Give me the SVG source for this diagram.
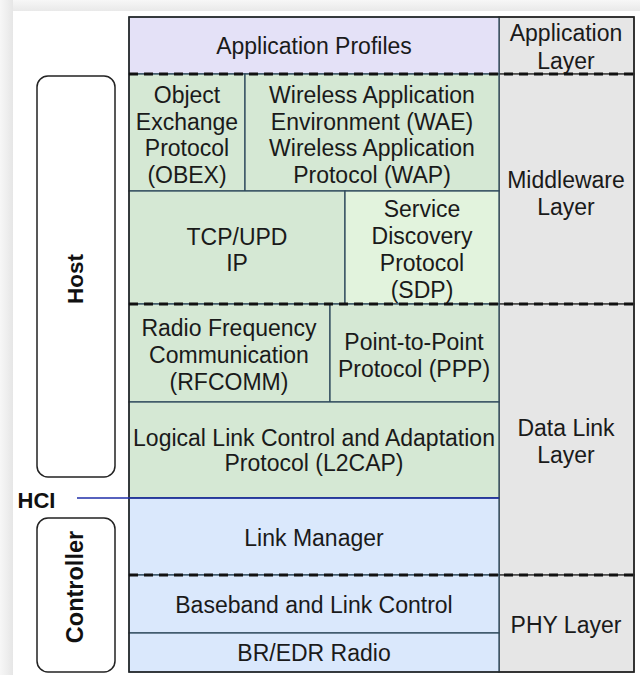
<svg xmlns="http://www.w3.org/2000/svg" width="640" height="675" viewBox="0 0 640 675">
<defs>
<linearGradient id="topShade" x1="0" y1="0" x2="0" y2="1"><stop offset="0" stop-color="#f7f7f7"/><stop offset="1" stop-color="#e9e9e9"/></linearGradient>
<linearGradient id="leftShade" x1="0" y1="0" x2="1" y2="0"><stop offset="0" stop-color="#f7f7f7"/><stop offset="1" stop-color="#e6e6e6"/></linearGradient>
</defs>
<style>
text{font-family:"Liberation Sans",Arial,sans-serif;font-size:23px;fill:#1a1a1a;text-anchor:middle}
.b{font-weight:bold;fill:#111}
.cell{stroke:#2e4a5c;stroke-width:1.3}
.green{fill:#d5e8d4}
.lgreen{fill:#e2f3dd}
.blue{fill:#dae8fc}
.purple{fill:#e4e1f7}
.gray{fill:#e6e6e6;stroke:#444;stroke-width:1.5}
.dash{stroke:#111;stroke-width:3;stroke-dasharray:9 6;fill:none}
.round{fill:#fff;stroke:#222;stroke-width:1.5}
</style>
<rect x="0" y="0" width="640" height="675" fill="#efefef"/>
<rect x="0" y="0" width="640" height="11" fill="url(#topShade)"/>
<rect x="0" y="0" width="13" height="675" fill="url(#leftShade)"/>
<rect x="13" y="11" width="627" height="664" fill="#ffffff"/>

<g id="layers">
<rect x="499" y="17" width="135" height="57" class="gray"/>
<rect x="499" y="74" width="135" height="230" class="gray"/>
<rect x="499" y="304" width="135" height="271" class="gray"/>
<rect x="499" y="575" width="135" height="97" class="gray"/>
</g>

<g id="app-profiles"><rect x="129" y="17" width="370" height="57" class="purple cell"/><text x="314" y="54">Application Profiles</text></g>
<g id="obex"><rect x="129" y="74" width="116" height="117" class="green cell"/>
<text x="187" y="103">Object</text><text x="187" y="130">Exchange</text><text x="187" y="156">Protocol</text><text x="187" y="183">(OBEX)</text></g>
<g id="wae"><rect x="245" y="74" width="254" height="117" class="green cell"/>
<text x="372" y="103">Wireless Application</text><text x="372" y="130">Environment (WAE)</text><text x="372" y="156">Wireless Application</text><text x="372" y="183">Protocol (WAP)</text></g>
<g id="tcp"><rect x="129" y="191" width="216" height="113" class="green cell"/>
<text x="237" y="245">TCP/UPD</text><text x="237" y="271">IP</text></g>
<g id="sdp"><rect x="345" y="191" width="154" height="113" class="lgreen cell"/>
<text x="422" y="217">Service</text><text x="422" y="244">Discovery</text><text x="422" y="271">Protocol</text><text x="422" y="298">(SDP)</text></g>
<g id="rfcomm"><rect x="129" y="304" width="201" height="98" class="green cell"/>
<text x="229" y="336">Radio Frequency</text><text x="229" y="363">Communication</text><text x="229" y="390">(RFCOMM)</text></g>
<g id="ppp"><rect x="330" y="304" width="169" height="98" class="green cell"/>
<text x="414" y="350">Point-to-Point</text><text x="414" y="377">Protocol (PPP)</text></g>
<g id="l2cap"><rect x="129" y="402" width="370" height="96" class="green cell"/>
<text x="314" y="446">Logical Link Control and Adaptation</text><text x="314" y="471">Protocol (L2CAP)</text></g>
<g id="link-manager"><rect x="129" y="498" width="370" height="77" class="blue cell"/><text x="314" y="546">Link Manager</text></g>
<g id="baseband"><rect x="129" y="575" width="370" height="58" class="blue cell"/><text x="314" y="613">Baseband and Link Control</text></g>
<g id="radio"><rect x="129" y="633" width="370" height="39" class="blue cell"/><text x="314" y="661">BR/EDR Radio</text></g>

<rect x="129" y="17" width="505" height="655" fill="none" stroke="#222" stroke-width="1.5"/>

<g id="layer-labels">
<text x="566" y="41">Application</text><text x="566" y="69">Layer</text>
<text x="566" y="188">Middleware</text><text x="566" y="215">Layer</text>
<text x="566" y="436">Data Link</text><text x="566" y="463">Layer</text>
<text x="566" y="633">PHY Layer</text>
</g>

<g id="host"><rect x="37" y="76" width="78" height="401" rx="11" class="round"/>
<text class="b" transform="translate(83,279) rotate(-90)" style="font-size:22.5px">Host</text></g>
<g id="controller"><rect x="37" y="518" width="78" height="154" rx="11" class="round"/>
<text class="b" transform="translate(83,587) rotate(-90)" style="font-size:23.5px">Controller</text></g>

<g id="connectors">
<line x1="129" y1="74" x2="634" y2="74" class="dash"/>
<line x1="129" y1="304" x2="634" y2="304" class="dash"/>
<line x1="129" y1="575" x2="634" y2="575" class="dash"/>
<line x1="77" y1="498" x2="499" y2="498" stroke="#1f2ea8" stroke-width="1.6"/>
</g>
<text class="b" x="36.5" y="508" style="font-size:22px">HCI</text>
</svg>
